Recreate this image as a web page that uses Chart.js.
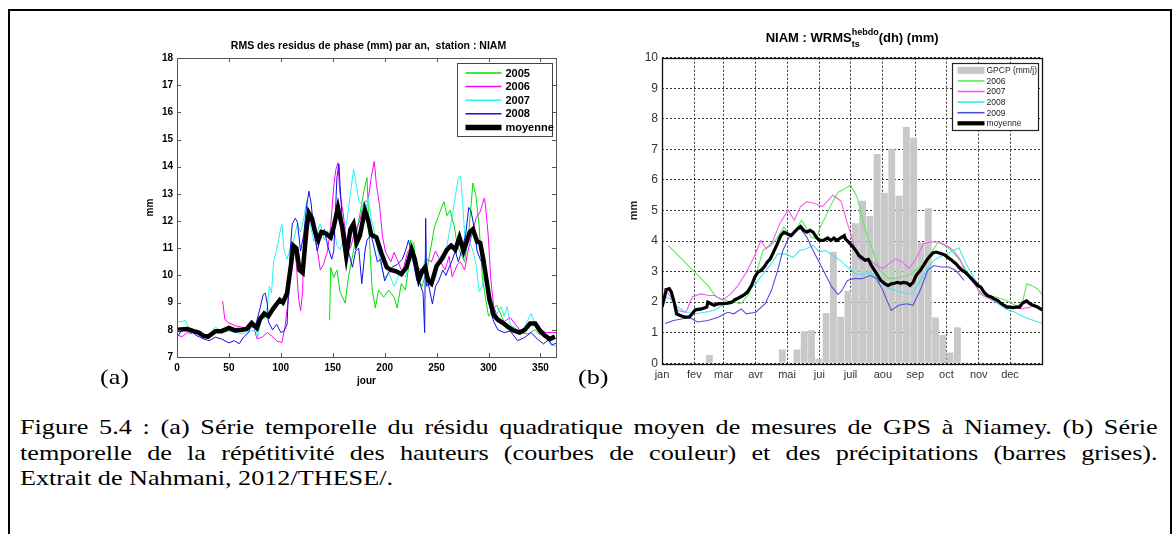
<!DOCTYPE html>
<html lang="fr">
<head>
<meta charset="utf-8">
<title>NIAM - RMS et WRMS</title>
<script src="https://cdn.jsdelivr.net/npm/chart.js@4.4.1/dist/chart.umd.min.js"></script>
<style>
  html, body { margin: 0; padding: 0; background: #fff; }
  body { width: 1174px; height: 534px; position: relative; overflow: hidden; font-family: "Liberation Serif", "Times New Roman", serif; }
  #cadre { position: absolute; left: 8px; top: 9px; width: 1160px; height: 560px; border: 2px solid #000; }
  canvas { position: absolute; }
  #chartA { left: 100px; top: 20px; }
  #chartB { left: 600px; top: 10px; }
  .panneau { position: absolute; top: 363px; font-size: 22px; line-height: 28px; transform: scaleX(1.19); transform-origin: 0 0; }
  #legende { position: absolute; left: 20px; top: 414px; width: 956px; font-size: 22px; line-height: 25.5px; color: #000;
             transform: scaleX(1.19); transform-origin: 0 0; }
  #legende div { text-align: justify; text-align-last: justify; white-space: nowrap; }
  #legende div.fin { text-align-last: left; }
</style>
</head>
<body>
<div id="cadre"></div>
<canvas id="chartA" width="480" height="390"></canvas>
<canvas id="chartB" width="470" height="385"></canvas>
<div class="panneau" style="left:100px">(a)</div>
<div class="panneau" style="left:578px">(b)</div>
<div id="legende">
  <div>Figure 5.4 : (a) Série temporelle du résidu quadratique moyen de mesures de GPS à Niamey. (b) Série</div>
  <div>temporelle de la répétitivité des hauteurs (courbes de couleur) et des précipitations (barres grises).</div>
  <div class="fin">Extrait de Nahmani, 2012/THESE/.</div>
</div>
<script>
// ---- (a) RMS des residus de phase, jour de l'annee -> mm ----
const ticksJourA = [0, 50, 100, 150, 200, 250, 300, 350];

const rms2005 = [[147,8.35],[148,10.3],[151,9.93],[154,10.2],[157,9.4],[162,8.98],[165,9.93],[170,10.9],[175,12.0],[180,13.1],[183,13.6],[185,11.55],[188,9.46],[191,8.8],[194,9.46],[199,9.2],[204,9.46],[209,9.2],[212,8.8],[216,9.7],[220,9.46],[223,10.3],[225,11.3],[228,11.2],[231,9.95],[236,9.6],[241,10.3],[244,10.9],[248,11.8],[257,12.72],[260,12.2],[263,12.4],[267,11.8],[270,11.1],[277,10.5],[281,11.6],[285,13.4],[288,12.9],[291,11.8],[294,9.95],[297,9.2],[300,8.5],[305,8.8],[308,8.9],[315,8.3],[322,8.1],[330,7.9],[338,7.85],[345,8.0],[350,7.8]];

const rms2006 = [[0,7.8],[5,7.75],[10,7.9],[15,7.85],[30,null],[44,9.05],[46,8.4],[49,8.27],[56,8.15],[62,8.1],[69,8.04],[74,8.1],[77,7.67],[82,7.73],[87,7.9],[92,7.75],[96,7.59],[101,7.53],[104,8.1],[108,9.4],[110,10.5],[113,11.0],[115,10.4],[117,9.2],[119,8.7],[121,9.4],[122,11.36],[125,12.2],[128,12.1],[132,11.5],[135,11.0],[138,10.2],[141,10.4],[145,10.9],[148,11.8],[151,13.3],[153,13.9],[155,14.15],[156,13.5],[157,13.0],[160,12.3],[163,11.3],[167,11.0],[171,11.6],[176,12.0],[180,12.7],[184,12.76],[187,13.6],[190,14.2],[192,13.35],[195,12.6],[198,11.4],[201,10.85],[206,10.5],[209,10.85],[213,10.5],[217,10.1],[222,10.85],[226,11.1],[231,10.3],[236,10.2],[241,10.6],[245,10.5],[249,10.9],[254,10.5],[258,10.2],[262,10.7],[265,9.95],[270,10.4],[273,10.5],[277,10.2],[280,10.85],[283,11.35],[288,12.1],[292,12.35],[296,12.85],[297,12.6],[300,11.35],[302,9.95],[305,8.85],[309,8.45],[315,8.3],[321,8.45],[331,7.95],[341,8.3],[347,8.1],[355,7.9],[365,7.9]];

const rms2007 = [[0,8.3],[4,8.3],[8,8.35],[12,7.95],[15,7.9],[21,7.8],[28,7.73],[33,7.9],[37,8.1],[43,7.95],[50,7.95],[57,7.9],[63,7.85],[70,7.95],[76,8.0],[78,7.73],[81,8.45],[84,8.4],[87,8.85],[89,9.6],[91,9.35],[93,10.5],[96,10.95],[99,11.56],[101,11.9],[103,10.95],[106,10.6],[109,11.0],[112,11.25],[116,11.9],[119,11.6],[122,12.1],[125,12.75],[127,12.1],[132,11.25],[135,11.6],[138,11.9],[142,11.3],[145,11.65],[148,11.3],[151,11.8],[154,11.1],[157,10.95],[160,11.3],[164,12.1],[167,13.0],[170,13.9],[172,13.5],[175,12.75],[178,12.6],[181,12.1],[184,12.9],[187,12.1],[190,11.6],[195,10.6],[200,9.9],[204,10.1],[209,9.6],[215,10.1],[220,9.95],[225,10.6],[230,10.4],[235,9.9],[239,10.6],[244,9.6],[249,9.9],[254,10.7],[258,10.6],[262,11.55],[265,12.15],[268,12.9],[271,13.6],[273,13.65],[275,12.75],[278,10.9],[281,11.35],[285,10.9],[288,10.4],[291,9.4],[294,9.6],[297,10.2],[299,9.6],[302,8.85],[307,8.5],[312,8.85],[315,8.5],[318,8.85],[321,8.2],[328,8.0],[333,7.95],[337,8.3],[341,8.6],[345,8.2],[349,7.95],[355,7.7],[360,7.45],[365,7.4]];

const rms2008 = [[0,7.73],[5,8.0],[12,8.05],[18,7.8],[26,7.66],[31,7.6],[37,7.73],[43,7.66],[50,7.52],[55,7.6],[60,7.49],[64,7.73],[69,7.9],[72,8.3],[76,8.2],[80,8.8],[83,9.3],[85,9.35],[87,8.95],[88,8.3],[92,8.0],[96,8.2],[100,7.9],[103,7.95],[106,8.2],[109,10.9],[111,11.9],[114,12.1],[116,11.95],[119,10.9],[122,11.5],[125,12.6],[127,13.1],[129,12.7],[132,11.6],[135,10.9],[138,11.35],[142,11.7],[145,11.1],[149,10.6],[151,10.9],[154,13.6],[156,14.1],[157,13.35],[159,12.1],[162,11.5],[165,10.9],[169,10.3],[172,10.9],[175,11.0],[178,9.7],[181,10.9],[183,11.3],[187,11.5],[190,11.0],[193,10.5],[196,10.6],[200,9.8],[203,10.05],[207,10.3],[212,10.4],[217,10.6],[220,10.9],[223,11.3],[225,10.95],[228,10.4],[231,9.8],[234,9.7],[237,9.35],[238.5,7.9],[239.5,12.1],[240.5,9.6],[242,9.7],[246,8.95],[249,9.6],[252,9.8],[256,10.2],[259,10.0],[262,10.3],[265,10.55],[268,10.9],[271,10.5],[274,10.9],[278,11.5],[281,12.5],[283,12.4],[286,11.8],[289,10.9],[292,10.6],[296,10.3],[300,9.45],[302,8.7],[305,8.3],[309,8.0],[315,7.9],[321,7.95],[328,7.6],[334,7.7],[341,7.9],[347,7.66],[353,7.48],[358,7.65],[361,7.45],[365,7.5]];

const rmsMoyenne = [[0,8.0],[10,8.03],[16,7.95],[21,7.9],[26,7.77],[30,7.75],[37,7.95],[43,7.95],[50,8.07],[56,7.98],[63,8.0],[67,8.03],[72,8.25],[77,8.07],[80,8.4],[84,8.6],[88,8.5],[93,8.8],[99,9.1],[102,9.0],[106,9.35],[110,10.45],[112,11.1],[115,11.0],[118,10.2],[121,10.1],[125,11.8],[127,12.3],[130,12.1],[133,11.6],[136,11.3],[139,11.6],[143,11.55],[148,11.4],[151,11.8],[155,12.5],[159,11.8],[163,10.7],[167,11.7],[170,11.9],[173,11.2],[176,11.45],[181,12.4],[184,12.05],[187,11.5],[192,11.4],[197,10.8],[202,10.3],[206,10.2],[211,10.15],[216,10.05],[221,10.3],[226,10.95],[229,10.6],[233,9.85],[236,10.15],[239,10.3],[242,9.8],[245,9.7],[250,10.35],[255,10.6],[260,10.95],[264,11.1],[268,10.95],[272,11.4],[276,10.9],[279,11.25],[282,11.6],[285,11.7],[289,11.25],[292,11.2],[295,10.6],[298,9.85],[301,9.1],[305,8.55],[309,8.37],[314,8.25],[319,8.1],[324,7.98],[330,7.9],[335,8.0],[340,8.23],[345,8.23],[350,7.95],[354,7.8],[359,7.66],[364,7.75]];

// ---- (b) WRMS hebdo + GPCP, jour de l'annee -> mm ----
const debutsMois = [0, 31, 59, 90, 120, 151, 181, 212, 243, 273, 304, 334];
const nomsMois = ['jan', 'fev', 'mar', 'avr', 'mai', 'jui', 'juil', 'aou', 'sep', 'oct', 'nov', 'dec'];

// pluie GPCP (mm/j), une barre par semaine
const gpcpSemaine = [0,0,0,0,0,0.02,0.27,0.02,0,0,0,0,0,0,0,0.02,0.45,0,0.45,1.05,1.08,0.15,1.65,3.65,1.52,2.37,4.58,5.32,4.82,6.85,5.58,7.02,5.48,7.73,7.38,3.95,5.07,1.5,0.93,0.35,1.18,0.03,0,0,0,0.02,0,0,0,0,0,0];

const wrms2006 = [[6,3.86],[44,2.55],[52,2.17],[63,2.04],[76,1.95],[84,2.3],[90,2.88],[97,3.7],[105,3.86],[111,4.13],[117,4.46],[123,4.13],[130,4.46],[134,4.68],[139,4.4],[143,4.13],[148,4.07],[152,4.46],[157,4.8],[163,5.24],[169,5.6],[175,5.7],[181,5.83],[187,5.46],[195,4.37],[203,3.61],[209,3.04],[218,2.77],[227,2.8],[237,2.88],[246,3.1],[255,3.42],[265,3.97],[271,3.86],[278,3.69],[286,3.37],[292,3.04],[299,2.71],[305,2.27],[311,2.22],[320,2.17],[330,2.06],[339,1.9],[345,1.84],[350,2.6],[354,2.55],[360,2.45],[365,2.25]];

const wrms2007 = [[2,2.45],[5,2.33],[11,2.06],[15,1.73],[23,1.67],[29,2.17],[37,2.27],[45,2.22],[51,2.22],[58,2.06],[66,2.27],[73,2.55],[81,2.98],[89,3.53],[95,4.02],[100,3.75],[106,3.97],[113,4.57],[121,5.02],[127,4.68],[133,5.13],[139,5.29],[146,5.24],[154,5.13],[164,5.5],[170,5.35],[172,5.29],[178,4.57],[184,3.91],[189,3.42],[193,3.37],[200,3.37],[206,3.2],[212,3.1],[218,3.26],[224,3.42],[231,3.31],[237,3.1],[243,3.37],[251,3.91],[258,3.97],[266,3.97],[274,3.83],[280,3.69],[286,3.4],[292,2.93],[302,2.49],[308,2.22],[317,2.06],[326,1.95],[336,1.84],[345,1.78],[354,1.84],[358,1.95]];

const wrms2008 = [[0,2.22],[8,2.11],[15,1.84],[23,1.67],[32,1.62],[41,1.67],[50,1.73],[58,1.9],[66,1.95],[73,2.17],[81,2.33],[90,2.6],[97,2.93],[105,3.26],[111,3.58],[118,3.58],[126,3.47],[132,3.69],[139,3.75],[145,3.86],[151,3.64],[157,3.69],[164,3.53],[171,3.37],[178,3.15],[186,2.93],[193,2.9],[200,2.98],[206,2.82],[212,2.6],[218,2.44],[227,2.36],[234,2.3],[240,2.27],[246,2.6],[254,3.04],[261,3.37],[269,3.53],[277,3.64],[285,3.78],[291,3.31],[299,2.82],[305,2.49],[312,2.27],[320,2.0],[330,1.78],[339,1.67],[348,1.51],[354,1.43],[365,1.3]];

const wrms2009 = [[3,1.3],[11,1.4],[20,1.46],[26,1.51],[34,1.35],[44,1.4],[54,1.51],[63,1.67],[69,1.62],[76,1.78],[81,1.62],[90,1.67],[99,1.95],[105,2.38],[111,3.04],[116,3.69],[122,4.13],[128,4.35],[133,4.4],[139,4.13],[145,3.69],[151,3.3],[157,2.9],[163,2.5],[169,2.25],[172,2.35],[178,2.71],[184,2.77],[192,2.77],[200,2.88],[206,2.77],[212,2.38],[220,1.73],[227,1.9],[235,1.95],[241,1.9],[249,2.49],[255,3.04],[261,3.2],[268,3.15],[275,3.15],[282,3.04],[286,2.88],[290,2.71]];

const wrmsMoyenne = [[0,1.84],[2,2.11],[4,2.41],[7,2.44],[9,2.33],[12,1.95],[14,1.62],[17,1.57],[22,1.51],[26,1.51],[29,1.62],[32,1.75],[38,1.78],[43,1.84],[44,2.0],[47,1.95],[50,1.9],[54,1.95],[58,1.95],[63,1.97],[67,2.0],[70,2.08],[73,2.13],[78,2.22],[82,2.33],[86,2.55],[89,2.82],[92,2.98],[95,3.04],[98,3.15],[101,3.31],[104,3.42],[107,3.64],[110,3.86],[114,4.18],[117,4.29],[120,4.24],[124,4.18],[127,4.29],[130,4.4],[133,4.48],[136,4.35],[139,4.29],[142,4.35],[145,4.29],[148,4.13],[151,4.02],[155,4.02],[159,4.1],[162,4.02],[165,4.1],[168,4.02],[171,4.1],[175,4.18],[176,4.07],[179,3.97],[182,3.86],[186,3.69],[189,3.53],[192,3.45],[195,3.37],[198,3.4],[201,3.2],[204,3.04],[207,2.88],[210,2.71],[214,2.6],[217,2.55],[220,2.6],[223,2.62],[226,2.65],[229,2.62],[232,2.65],[235,2.63],[238,2.55],[241,2.65],[244,2.88],[248,3.04],[251,3.2],[254,3.37],[257,3.5],[260,3.61],[263,3.64],[266,3.61],[269,3.58],[272,3.53],[275,3.45],[278,3.37],[282,3.26],[285,3.15],[288,3.04],[291,2.98],[294,2.88],[297,2.77],[300,2.66],[303,2.55],[306,2.49],[309,2.33],[312,2.22],[316,2.17],[319,2.11],[322,2.06],[325,1.97],[328,1.9],[331,1.84],[334,1.84],[337,1.82],[340,1.84],[343,1.84],[346,1.97],[350,2.04],[353,1.95],[356,1.9],[360,1.85],[365,1.75]];

const police = "'Liberation Sans', Arial, sans-serif";
Chart.defaults.font.family = police;
Chart.defaults.color = '#000';

const pts = arr => arr.map(([x, y]) => ({ x: x, y: y }));

// cadre des axes + petites graduations interieures (style matlab)
const pluginCadre = {
  id: 'cadre',
  afterDatasetsDraw(chart, args, o) {
    const { ctx, chartArea: a, scales } = chart;
    ctx.save();
    ctx.strokeStyle = o.color;
    ctx.lineWidth = o.width;
    if (o.tick) {
      ctx.beginPath();
      scales.x.ticks.forEach(t => {
        const px = Math.round(scales.x.getPixelForValue(t.value)) + 0.5;
        ctx.moveTo(px, a.bottom); ctx.lineTo(px, a.bottom - o.tick);
        ctx.moveTo(px, a.top); ctx.lineTo(px, a.top + o.tick);
      });
      scales.y.ticks.forEach(t => {
        const py = Math.round(scales.y.getPixelForValue(t.value)) + 0.5;
        ctx.moveTo(a.left, py); ctx.lineTo(a.left + o.tick, py);
        ctx.moveTo(a.right, py); ctx.lineTo(a.right - o.tick, py);
      });
      ctx.stroke();
    }
    ctx.strokeRect(Math.round(a.left) + 0.5, Math.round(a.top) + 0.5, Math.round(a.width), Math.round(a.height));
    ctx.restore();
  }
};

// legende encadree dans le coin haut droit
const pluginLegende = {
  id: 'legendeBoite',
  afterDraw(chart, args, o) {
    const { ctx, chartArea: a } = chart;
    const x0 = Math.round(a.right - o.right - o.width) + 0.5;
    const y0 = Math.round(a.top + o.top) + 0.5;
    ctx.save();
    ctx.fillStyle = '#fff';
    ctx.fillRect(x0, y0, o.width, o.height);
    ctx.strokeStyle = o.borderColor;
    ctx.lineWidth = o.borderWidth;
    ctx.strokeRect(x0, y0, o.width, o.height);
    ctx.font = o.font;
    ctx.textBaseline = 'middle';
    chart.data.datasets.forEach((ds, i) => {
      const y = y0 + o.first + i * o.step;
      if (ds.type === 'bar') {
        ctx.fillStyle = ds.backgroundColor;
        ctx.fillRect(x0 + o.lineStart, y - o.patch / 2, o.lineLen, o.patch);
      } else {
        ctx.strokeStyle = ds.borderColor;
        ctx.lineWidth = ds.borderWidth + (ds.label === 'moyenne' ? 1 : 0.5);
        ctx.beginPath();
        ctx.moveTo(x0 + o.lineStart, y);
        ctx.lineTo(x0 + o.lineStart + o.lineLen, y);
        ctx.stroke();
      }
      ctx.fillStyle = o.textColor;
      ctx.fillText(ds.label, x0 + o.textStart, y + 0.5);
    });
    ctx.restore();
  }
};

// titre avec indice / exposant
const pluginTitre = {
  id: 'titreFig',
  afterDraw(chart, args, o) {
    const { ctx, chartArea: a } = chart;
    ctx.save();
    ctx.fillStyle = '#000';
    ctx.textBaseline = 'alphabetic';
    let total = 0, garde = 0;
    const pos = [];
    o.parts.forEach(p => {
      ctx.font = `bold ${p.s}px ${police}`;
      const w = ctx.measureText(p.t).width;
      pos.push(total);
      if (p.keep) { garde = w; } else { total += Math.max(w, garde); garde = 0; }
    });
    const x0 = (a.left + a.right) / 2 + (o.dx || 0) - total / 2;
    o.parts.forEach((p, i) => {
      ctx.font = `bold ${p.s}px ${police}`;
      ctx.fillText(p.t, x0 + pos[i], o.y + (p.dy || 0));
    });
    ctx.restore();
  }
};

// ---------------- (a) ----------------
const ligneA = { type: 'line', pointRadius: 0, tension: 0, fill: false, spanGaps: false };
new Chart(document.getElementById('chartA'), {
  type: 'line',
  data: {
    datasets: [
      { ...ligneA, label: '2005', data: pts(rms2005), borderColor: '#00e000', borderWidth: 1, order: 4 },
      { ...ligneA, label: '2006', data: pts(rms2006), borderColor: '#ff00ff', borderWidth: 1, order: 3 },
      { ...ligneA, label: '2007', data: pts(rms2007), borderColor: '#2af2f2', borderWidth: 1, order: 2 },
      { ...ligneA, label: '2008', data: pts(rms2008), borderColor: '#1010e6', borderWidth: 1, order: 1 },
      { ...ligneA, label: 'moyenne', data: pts(rmsMoyenne), borderColor: '#000', borderWidth: 4.5, order: 0 }
    ]
  },
  options: {
    responsive: false,
    animation: false,
    events: [],
    layout: { padding: { left: 0, right: 24, top: 38, bottom: 0 } },
    plugins: {
      legend: { display: false },
      tooltip: { enabled: false },
      cadre: { color: '#555', width: 1, tick: 4 },
      legendeBoite: { right: 4, top: 5, width: 95, height: 73, first: 9.5, step: 13.6, lineStart: 8, lineLen: 36, textStart: 48,
                      font: `bold 11px ${police}`, textColor: '#000', borderColor: '#444', borderWidth: 1, patch: 6 },
      titreFig: { y: 29, dx: 2, parts: [{ t: 'RMS des residus de phase (mm) par an,  station : NIAM', s: 10.5 }] }
    },
    scales: {
      x: {
        type: 'linear', min: 0, max: 365, offset: false,
        afterBuildTicks: s => { s.ticks = ticksJourA.map(v => ({ value: v })); },
        afterFit: s => { s.height = 53; },
        grid: { display: false, drawTicks: false },
        border: { display: false },
        ticks: { autoSkip: false, maxRotation: 0, padding: 5, font: { size: 10, weight: 'bold' } },
        title: { display: true, text: 'jour', font: { size: 10, weight: 'bold' }, padding: { top: 0, bottom: 23 } }
      },
      y: {
        min: 7, max: 18,
        afterFit: s => { s.width = 77; },
        grid: { display: false, drawTicks: false },
        border: { display: false },
        ticks: { stepSize: 1, padding: 4, font: { size: 10, weight: 'bold' } },
        title: { display: true, text: 'mm', font: { size: 10, weight: 'bold' }, padding: { top: 44, bottom: 0 } }
      }
    }
  },
  plugins: [pluginCadre, pluginLegende, pluginTitre]
});

// ---------------- (b) ----------------
const ligneB = { type: 'line', pointRadius: 0, tension: 0, fill: false };
new Chart(document.getElementById('chartB'), {
  type: 'line',
  data: {
    datasets: [
      { type: 'bar', label: 'GPCP (mm/j)', data: gpcpSemaine.map((v, i) => ({ x: 7 * i + 3.5, y: v })),
        backgroundColor: '#c8c8c8', borderWidth: 0, barPercentage: 0.94, categoryPercentage: 1.0, order: 10 },
      { ...ligneB, label: '2006', data: pts(wrms2006), borderColor: '#5fe85f', borderWidth: 1.1, order: 4 },
      { ...ligneB, label: '2007', data: pts(wrms2007), borderColor: '#f060f0', borderWidth: 1.1, order: 3 },
      { ...ligneB, label: '2008', data: pts(wrms2008), borderColor: '#40e8f0', borderWidth: 1.1, order: 2 },
      { ...ligneB, label: '2009', data: pts(wrms2009), borderColor: '#5050e0', borderWidth: 1.1, order: 1 },
      { ...ligneB, label: 'moyenne', data: pts(wrmsMoyenne), borderColor: '#000', borderWidth: 3.2, order: 0 }
    ]
  },
  options: {
    responsive: false,
    animation: false,
    events: [],
    layout: { padding: { left: 0, right: 27.7, top: 47.7, bottom: 0 } },
    plugins: {
      legend: { display: false },
      tooltip: { enabled: false },
      cadre: { color: '#111', width: 1.3, tick: 0 },
      legendeBoite: { right: 4.6, top: 5, width: 86, height: 67, first: 6.8, step: 10.6, lineStart: 5, lineLen: 27, textStart: 34,
                      font: `8.5px ${police}`, textColor: '#222', borderColor: '#222', borderWidth: 1.2, patch: 7 },
      titreFig: { y: 31.5, dx: 0, parts: [
        { t: 'NIAM : WRMS', s: 13 },
        { t: 'hebdo', s: 9, dy: -6.5, keep: true },
        { t: 'ts', s: 9, dy: 5 },
        { t: '(dh) (mm)', s: 13 }
      ] }
    },
    scales: {
      x: {
        type: 'linear', min: 0, max: 365, offset: false,
        afterBuildTicks: s => { s.ticks = debutsMois.map(v => ({ value: v })); },
        afterFit: s => { s.height = 31.7; },
        grid: { color: '#333', lineWidth: 1, drawTicks: false, offset: false },
        border: { display: false, dash: [2, 2] },
        ticks: { autoSkip: false, maxRotation: 0, padding: 5, font: { size: 11 }, color: '#333',
                 callback: v => nomsMois[debutsMois.indexOf(v)] }
      },
      y: {
        min: 0, max: 10,
        afterFit: s => { s.width = 62; },
        grid: { color: '#333', lineWidth: 1, drawTicks: false },
        border: { display: false, dash: [2, 2] },
        ticks: { stepSize: 1, padding: 4, font: { size: 12 }, color: '#333' },
        title: { display: true, text: 'mm', font: { size: 11, weight: 'bold' }, color: '#222', padding: { top: 27, bottom: 0 } }
      }
    }
  },
  plugins: [pluginCadre, pluginLegende, pluginTitre]
});
</script>
</body>
</html>
